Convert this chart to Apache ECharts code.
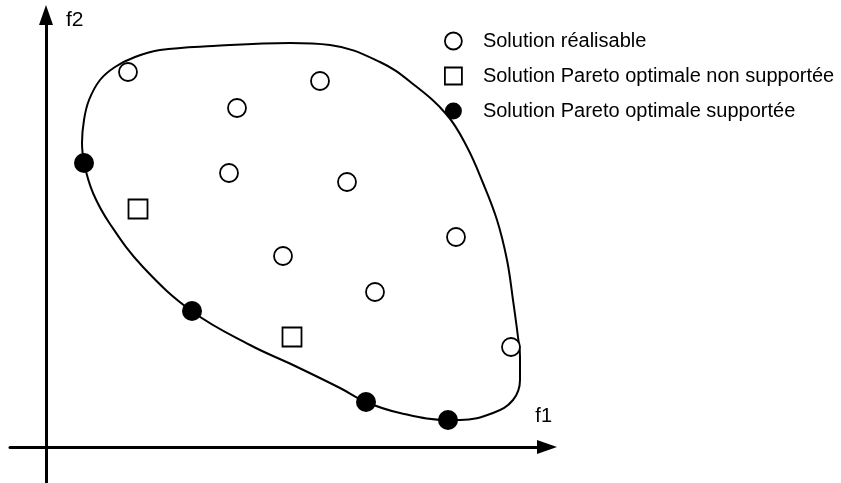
<!DOCTYPE html>
<html>
<head>
<meta charset="utf-8">
<script src="https://cdn.jsdelivr.net/npm/echarts@6/dist/echarts.min.js"></script>
<style>
  html, body { margin: 0; padding: 0; background: #fff; }
  #main { width: 841px; height: 483px; }
</style>
</head>
<body>
<div id="main"></div>
<script>
// legend / series names
const names = [
  'Solution réalisable',
  'Solution Pareto optimale non supportée',
  'Solution Pareto optimale supportée'
]

// points, [f1, f2]
const feasible = [
  [82, 375], [274, 366], [191, 339], [183, 274], [301, 265],
  [410, 210], [237, 191], [329, 155], [465, 100]
]
const nonSupported = [[92, 238], [246, 110]]
const supported = [[38, 284], [146, 136], [320, 45], [402, 27]]

// outline of the feasible region (closed)
const region = [
  [38, 284], [36, 304], [38, 327], [43, 347], [54, 367], [69, 380], [89, 390],
  [114, 397], [167, 401], [244, 404], [284, 402], [334, 385], [367, 363],
  [401, 332], [421, 300], [437, 264], [451, 227], [461, 187], [467, 147],
  [472, 110], [474, 90], [474, 67], [467, 47], [447, 34], [414, 27],
  [402, 27], [354, 34], [320, 45], [294, 59], [247, 82], [204, 102],
  [147, 135], [97, 180], [64, 223], [47, 254], [38, 284]
]

const font = 'Liberation Sans, Arial, sans-serif'

var chart = echarts.init(document.getElementById('main'))

var axisLine = {
  onZero: true,
  symbol: ['none', 'triangle'],
  symbolSize: [14, 20],
  lineStyle: { color: '#000', width: 3 }
}

var option = {
  animation: false,
  backgroundColor: '#fff',
  grid: { left: 10, right: 294, top: 15, bottom: 0 },
  xAxis: {
    type: 'value',
    min: -36,
    max: 501,
    name: 'f1',
    nameLocation: 'end',
    nameGap: 5,
    nameTextStyle: {
      fontFamily: font, fontSize: 20, color: '#000',
      align: 'right', verticalAlign: 'bottom', padding: [0, 0, 21, 0]
    },
    axisLine: axisLine,
    axisTick: { show: false },
    axisLabel: { show: false },
    splitLine: { show: false }
  },
  yAxis: {
    type: 'value',
    min: -36,
    max: 432,
    name: 'f2',
    nameLocation: 'end',
    nameGap: 5,
    nameTextStyle: {
      fontFamily: font, fontSize: 21, color: '#000',
      align: 'left', verticalAlign: 'top', padding: [0, 0, 0, 20]
    },
    axisLine: axisLine,
    axisTick: { show: false },
    axisLabel: { show: false },
    splitLine: { show: false }
  },
  legend: {
    orient: 'vertical',
    left: 444,
    top: 31,
    padding: 0,
    itemWidth: 17,
    itemHeight: 17,
    itemGap: 15,
    textStyle: { fontFamily: font, fontSize: 20, color: '#000', padding: [0, 0, 0, 16] },
    data: [
      { name: names[0], icon: 'circle', itemStyle: { color: '#fff', borderColor: '#000', borderWidth: 1.8 } },
      { name: names[1], icon: 'rect', itemStyle: { color: '#fff', borderColor: '#000', borderWidth: 1.8 } },
      { name: names[2], icon: 'circle', itemStyle: { color: '#000' } }
    ]
  },
  series: [
    {
      type: 'line',
      name: 'region',
      data: region,
      smooth: 0.4,
      showSymbol: false,
      silent: true,
      lineStyle: { color: '#000', width: 2 },
      z: 1
    },
    {
      type: 'scatter',
      name: names[0],
      data: feasible,
      symbol: 'circle',
      symbolSize: 18,
      itemStyle: { color: '#fff', borderColor: '#000', borderWidth: 1.8, opacity: 1 },
      z: 3
    },
    {
      type: 'scatter',
      name: names[1],
      data: nonSupported,
      symbol: 'rect',
      symbolSize: 19,
      itemStyle: { color: '#fff', borderColor: '#000', borderWidth: 1.8, opacity: 1 },
      z: 3
    },
    {
      type: 'scatter',
      name: names[2],
      data: supported,
      symbol: 'circle',
      symbolSize: 20,
      itemStyle: { color: '#000', opacity: 1 },
      z: 3
    }
  ]
}

chart.setOption(option)
</script>
</body>
</html>
